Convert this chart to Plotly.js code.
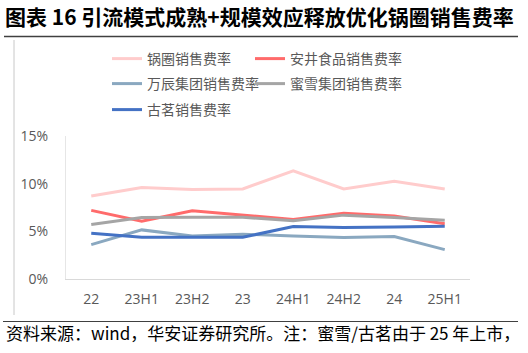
<!DOCTYPE html>
<html>
<head>
<meta charset="utf-8">
<script src="https://cdn.plot.ly/plotly-3.0.1.min.js"></script>
<style>html,body{margin:0;padding:0;background:#fff;}#chart{width:528px;height:353px;}</style>
</head>
<body>
<div id="chart"></div>
<script>
const categories = ["22", "23H1", "23H2", "23", "24H1", "24H2", "24", "25H1"];
const guoquan = [8.7, 9.6, 9.4, 9.45, 11.35, 9.45, 10.25, 9.45];
const anjing = [7.2, 6.05, 7.15, 6.7, 6.25, 6.9, 6.6, 5.8];
const wanchen = [3.6, 5.15, 4.5, 4.7, 4.5, 4.35, 4.45, 3.08];
const mixue = [5.72, 6.45, 6.47, 6.47, 6.1, 6.7, 6.45, 6.15];
const guming = [4.8, 4.37, 4.38, 4.38, 5.5, 5.4, 5.45, 5.53];
const seriesNames = ["锅圈销售费率", "安井食品销售费率", "万辰集团销售费率", "蜜雪集团销售费率", "古茗销售费率"];
const yTicks = [0, 5, 10, 15];
const yTickText = yTicks.map(v => v + "%");

const FONT = "'Open Sans', 'Noto Sans CJK SC', sans-serif";
const CJK = "'Noto Sans CJK SC', sans-serif";
const colors = ["#FFCCCC", "#FF6B6B", "#8AA8C0", "#A5A5A5", "#4472C4"];
const legendIds = ["legend", "legend", "legend2", "legend2", "legend3"];
const legendWidths = [98, 125, 98, 125, 98];
const seriesData = [guoquan, anjing, wanchen, mixue, guming];

const traces = seriesData.map((vals, i) => ({
  type: "scatter", mode: "lines",
  x: categories, y: vals, name: seriesNames[i],
  legend: legendIds[i], legendwidth: legendWidths[i],
  line: {color: colors[i], width: 3},
  hoverinfo: "skip"
}));

function legendCfg(yPx) {
  return {
    orientation: "h", xref: "container", yref: "container",
    x: 107 / 528, xanchor: "left", y: 1 - yPx / 353, yanchor: "middle",
    itemwidth: 30, bgcolor: "rgba(0,0,0,0)",
    font: {family: CJK, size: 14, color: "#595959"}
  };
}

const layout = {
  width: 528, height: 353,
  margin: {l: 66, r: 58, t: 136, b: 74, autoexpand: false},
  paper_bgcolor: "#ffffff", plot_bgcolor: "#ffffff",
  showlegend: true,
  legend: legendCfg(59),
  legend2: legendCfg(84),
  legend3: legendCfg(110),
  xaxis: {
    type: "category", categoryorder: "array", categoryarray: categories,
    range: [-0.5, 7.5],
    showgrid: false, zeroline: false,
    showline: true, linecolor: "#D9D9D9", linewidth: 1,
    ticks: "", ticklabelstandoff: 7,
    tickfont: {family: FONT, size: 14, color: "#595959"}
  },
  yaxis: {
    range: [0, 15], tickmode: "array", tickvals: yTicks, ticktext: yTickText,
    showgrid: false, zeroline: false,
    showline: true, linecolor: "#E6E6E6", linewidth: 1,
    ticks: "", ticklabelstandoff: 14,
    tickfont: {family: FONT, size: 14, color: "#595959"}
  },
  shapes: [
    {type: "line", xsizemode: "pixel", ysizemode: "pixel", xref: "paper", yref: "paper",
     xanchor: 0, yanchor: 0, x0: -62, x1: 452, y0: 242.5, y1: 242.5,
     line: {color: "#404040", width: 1.5}},
    {type: "line", xsizemode: "pixel", ysizemode: "pixel", xref: "paper", yref: "paper",
     xanchor: 0, yanchor: 0, x0: -63, x1: 452, y0: -42.5, y1: -42.5,
     line: {color: "#404040", width: 1.2}},
    {type: "line", xsizemode: "pixel", ysizemode: "pixel", xref: "paper", yref: "paper",
     xanchor: 0, yanchor: 0, x0: -52, x1: -52, y0: -36, y1: 239,
     line: {color: "#C8C8C8", width: 1}}
  ],
  annotations: [
    {xref: "paper", yref: "paper", x: -63/404, y: 1 + (136 - 16) / 143.5,
     xanchor: "left", yanchor: "middle", showarrow: false,
     text: "<b>图表 16 引流模式成熟+规模效应释放优化锅圈销售费率</b>",
     font: {family: CJK, size: 21, color: "#000000"}},
    {xref: "paper", yref: "paper", x: -62/404, y: -(333 - 279.5) / 143.5,
     xanchor: "left", yanchor: "middle", showarrow: false,
     text: "资料来源：wind，华安证券研究所。注：蜜雪/古茗由于 25 年上市，",
     font: {family: CJK, size: 17, color: "#000000"}}
  ]
};

Plotly.newPlot("chart", traces, layout, {staticPlot: true, displayModeBar: false});
</script>
</body>
</html>
